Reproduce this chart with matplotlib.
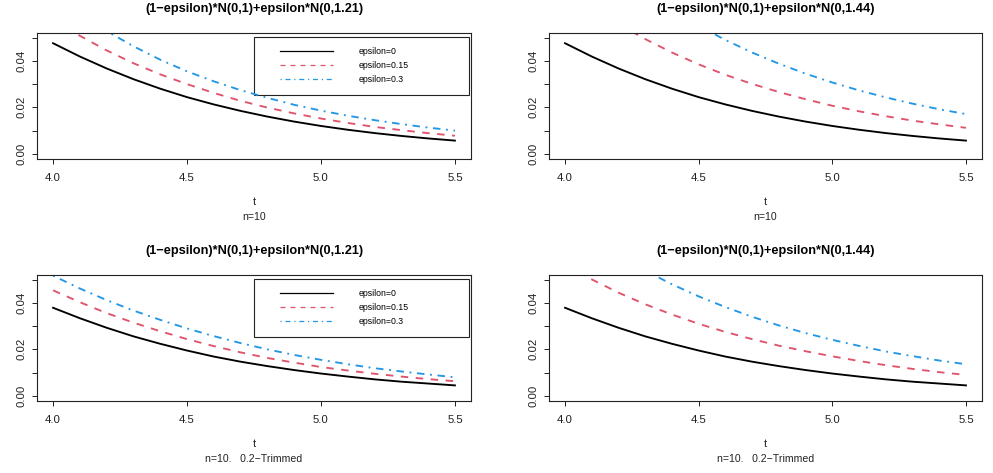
import matplotlib
matplotlib.use('Agg')
import matplotlib.pyplot as plt
from matplotlib.patches import Rectangle
from matplotlib.lines import Line2D

plt.rcParams['font.family'] = ['Liberation Sans', 'DejaVu Sans']

# t grid
t = [4.0, 4.1, 4.2, 4.3, 4.4, 4.5, 4.6, 4.7, 4.8, 4.9,
     5.0, 5.1, 5.2, 5.3, 5.4, 5.5]

# n=10, plain mean
mean_eps0 = [0.04760, 0.04188, 0.03674, 0.03213, 0.02804, 0.02440, 0.02126, 0.01848,
             0.01603, 0.01388, 0.01200, 0.01037, 0.00894, 0.00771, 0.00663, 0.00570]
mean_121_eps15 = [0.0580, 0.0508, 0.0445, 0.0390, 0.0342, 0.0300, 0.0262, 0.0228,
                  0.0199, 0.0174, 0.0152, 0.0133, 0.0116, 0.0102, 0.0089, 0.0078]
mean_121_eps30 = [0.0690, 0.0604, 0.0528, 0.0463, 0.0405, 0.0355, 0.0312, 0.0274,
                  0.0241, 0.0211, 0.0186, 0.0164, 0.0145, 0.0128, 0.0113, 0.0100]
mean_144_eps15 = [0.0716, 0.0633, 0.0559, 0.0494, 0.0436, 0.0385, 0.0340, 0.0301,
                  0.0266, 0.0235, 0.0207, 0.0183, 0.0162, 0.0143, 0.0127, 0.0112]
mean_144_eps30 = [0.0989, 0.0880, 0.0782, 0.0696, 0.0619, 0.0551, 0.0490, 0.0436,
                  0.0388, 0.0345, 0.0307, 0.0273, 0.0243, 0.0216, 0.0192, 0.0171]

# n=10, 0.2-trimmed mean
trim_eps0 = [0.0379, 0.0334, 0.0293, 0.0256, 0.0224, 0.0195, 0.0169, 0.0147,
             0.0128, 0.0111, 0.0096, 0.0083, 0.0071, 0.0061, 0.0053, 0.0045]
trim_121_eps15 = [0.0454, 0.0403, 0.0356, 0.0315, 0.0278, 0.0244, 0.0214, 0.0187,
                  0.0163, 0.0143, 0.0124, 0.0109, 0.0095, 0.0083, 0.0072, 0.0063]
trim_121_eps30 = [0.0517, 0.0462, 0.0412, 0.0367, 0.0327, 0.0290, 0.0257, 0.0227,
                  0.0200, 0.0176, 0.0155, 0.0136, 0.0119, 0.0105, 0.0092, 0.0080]
trim_144_eps15 = [0.0565, 0.0501, 0.0444, 0.0394, 0.0350, 0.0310, 0.0275, 0.0244,
                  0.0216, 0.0192, 0.0170, 0.0150, 0.0132, 0.0116, 0.0102, 0.0090]
trim_144_eps30 = [0.0761, 0.0678, 0.0604, 0.0539, 0.0480, 0.0428, 0.0382, 0.0340,
                  0.0303, 0.0270, 0.0241, 0.0215, 0.0191, 0.0171, 0.0152, 0.0136]

eps_labels = ['epsilon=0', 'epsilon=0.15', 'epsilon=0.3']
titles = ['(1\u2212epsilon)*N(0,1)+epsilon*N(0,1.21)',
          '(1\u2212epsilon)*N(0,1)+epsilon*N(0,1.44)',
          '(1\u2212epsilon)*N(0,1)+epsilon*N(0,1.21)',
          '(1\u2212epsilon)*N(0,1)+epsilon*N(0,1.44)']
subtitles = ['n=10', 'n=10', 'n=10.   0.2\u2212Trimmed', 'n=10.   0.2\u2212Trimmed']
panel_series = [
    [mean_eps0, mean_121_eps15, mean_121_eps30],
    [mean_eps0, mean_144_eps15, mean_144_eps30],
    [trim_eps0, trim_121_eps15, trim_121_eps30],
    [trim_eps0, trim_144_eps15, trim_144_eps30],
]
show_legend = [True, False, True, False]

colors = ['#000000', '#DF536B', '#2297E6']
dash_styles = [None, (4, 4), (1, 3, 4, 3)]

W, H = 993, 473
fig = plt.figure(figsize=(W / 100, H / 100), dpi=100)

# axes boxes in pixels: left, top, right, bottom
boxes = [(37, 33, 471, 158.5), (549, 33, 982, 158.5),
         (37, 275, 471, 400.5), (549, 275, 982, 400.5)]

for i, (l, tp, r, b) in enumerate(boxes):
    ax = fig.add_axes([l / W, (H - b) / H, (r - l) / W, (b - tp) / H])
    for ser, col, ds in zip(panel_series[i], colors, dash_styles):
        line, = ax.plot(t, ser, color=col, lw=1.35)
        if ds is not None:
            line.set_dashes(ds)
    ax.set_xlim(3.94, 5.56)
    ax.set_ylim(-0.002, 0.052)
    ax.set_xticks([4.0, 4.5, 5.0, 5.5])
    ax.set_xticklabels(['4.0', '4.5', '5.0', '5.5'])
    ax.set_yticks([0.0, 0.01, 0.02, 0.03, 0.04, 0.05])
    ax.set_yticklabels(['0.00', '', '0.02', '', '0.04', ''])
    ax.tick_params(axis='both', direction='out', length=3.6, width=0.7,
                   labelsize=8.2, colors='#222222')
    ax.tick_params(axis='x', pad=6.8)
    ax.tick_params(axis='y', pad=4.2, labelrotation=90)
    for lab in ax.get_yticklabels():
        lab.set_va('center')
    for sp in ax.spines.values():
        sp.set_linewidth(0.8)
        sp.set_color('#222222')

    ax.text(0.5, 1.19, titles[i], transform=ax.transAxes, ha='center',
            va='center', fontsize=9.2, fontweight='bold')
    ax.annotate('t', xy=(0.5, 0), xycoords='axes fraction', xytext=(0, -31.3),
                textcoords='offset points', ha='center', va='center',
                fontsize=8.0, color='#222222')
    ax.annotate(subtitles[i], xy=(0.5, 0), xycoords='axes fraction',
                xytext=(0, -42.1), textcoords='offset points', ha='center',
                va='center', fontsize=7.6, color='#222222')

    if show_legend[i]:
        ax.add_patch(Rectangle((0.5, 0.503), 0.4954, 0.465, transform=ax.transAxes,
                               fill=False, edgecolor='#222222', lw=0.8,
                               clip_on=False))
        handles = []
        for col, ds in zip(colors, dash_styles):
            h = Line2D([], [], color=col, lw=0.9)
            if ds is not None:
                h.set_dashes(ds)
            handles.append(h)
        ax.legend(handles, eps_labels, loc='upper left',
                  bbox_to_anchor=(0.56, 0.887), frameon=False, fontsize=6.3,
                  borderpad=0, borderaxespad=0, handlelength=6.0,
                  handletextpad=3.0, labelspacing=0.55)

fig.savefig('out.png', dpi=100)
